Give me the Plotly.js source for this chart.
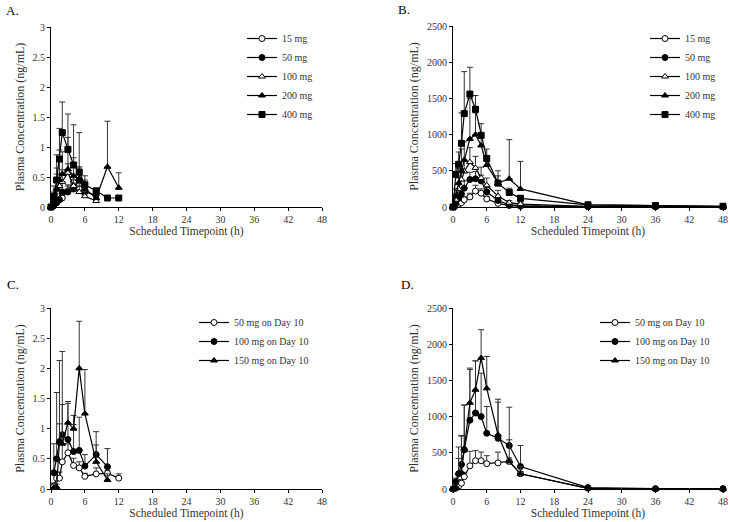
<!DOCTYPE html>
<html>
<head>
<meta charset="utf-8">
<script src="https://cdn.plot.ly/plotly-3.0.1.min.js"></script>
<style>html,body{margin:0;padding:0;background:#fff;}#chart{width:730px;height:522px;}</style>
</head>
<body>
<div id="chart"></div>
<script>
// ---- Data ----
var timesShort = [0, 0.5, 1, 1.5, 2, 3, 4, 5, 6, 8, 10, 12];
var timesLong = [0, 0.5, 1, 1.5, 2, 3, 4, 5, 6, 8, 10, 12, 24, 36, 48];
var timesC = [0.5, 1, 1.5, 2, 3, 4, 5, 6, 8, 10, 12];

// Panel A (single dose, ng/mL, short time)
var A15 = [0, 0.05, 0.15, 0.22, 0.15, 0.27, 0.42, 0.3, 0.28, null, null, null];
var A15err = [0, 0.05, 0.1, 0.1, 0.1, 0.1, 0.12, 0.1, 0.08, null, null, null];
var A50 = [0, 0.02, 0.07, 0.12, 0.25, 0.25, 0.3, 0.45, 0.25, 0.2, null, null];
var A50err = [0, 0.02, 0.05, 0.1, 0.15, 0.1, 0.1, 0.2, 0.1, 0.05, null, null];
var A100 = [0, 0.15, 0.3, 0.35, 0.42, 0.57, 0.35, 0.25, 0.18, 0.1, null, null];
var A100err = [0, 0.1, 0.35, 0.2, 0.2, 0.15, 0.1, 0.1, 0.08, 0.05, null, null];
var A200 = [0, 0.1, 0.3, 0.45, 0.55, 0.63, 0.52, 0.47, 0.3, 0.15, 0.67, 0.32];
var A200err = [0, 0.1, 0.25, 0.5, 0.37, 0.53, 0.3, 0.2, 0.15, 0.08, 0.76, 0.25];
var A400 = [0, 0.18, 0.45, 0.8, 1.24, 0.96, 0.7, 0.58, 0.37, 0.27, 0.15, 0.15];
var A400err = [0, 0.17, 0.42, 0.51, 0.51, 0.59, 0.67, 0.66, 0.15, 0.03, 0.02, 0.02];

// Panel B
var B15 = [0, 20, 40, 60, 100, 140, 220, 190, 110, 50, 20, 10, 5, 3, 2];
var B15err = [0, 10, 20, 30, 40, 50, 80, 60, 40, 20, 10, 5, 2, 2, 2];
var B50 = [0, 50, 120, 180, 260, 380, 390, 360, 210, 90, 30, 20, 5, 3, 2];
var B50err = [0, 30, 60, 80, 100, 100, 100, 80, 60, 40, 20, 10, 3, 2, 2];
var B100 = [0, 100, 250, 380, 490, 620, 540, 400, 300, 150, 60, 40, 10, 5, 5];
var B100err = [0, 80, 150, 150, 150, 200, 160, 150, 100, 80, 30, 20, 5, 3, 3];
var B200 = [0, 150, 330, 500, 650, 940, 1000, 850, 580, 330, 390, 250, 30, 15, 10];
var B200err = [0, 100, 200, 300, 250, 560, 300, 150, 120, 100, 540, 380, 10, 5, 5];
var B400 = [0, 450, 590, 880, 1290, 1560, 1350, 990, 670, 330, 200, 120, 30, 20, 10];
var B400err = [0, 150, 170, 420, 580, 370, 190, 160, 130, 170, 60, 40, 10, 5, 5];

// Panel C (Day 10, short time)
var C50 = [0.05, 0.18, 0.18, 0.45, 0.6, 0.39, 0.35, 0.21, 0.25, 0.26, 0.18];
var C50err = [0.05, 0.1, 0.1, 0.3, 0.15, 0.12, 0.1, 0.05, 0.1, 0.05, 0.07];
var C100 = [0.27, 0.5, 0.78, 0.9, 0.82, 0.62, 0.64, 0.38, 0.57, 0.37, null];
var C100err = [0.48, 1.1, 0.3, 0.5, 0.6, 0.45, 0.55, 0.19, 0.38, 0.3, null];
var C150 = [0.02, 0.03, 0.8, 0.75, 1.1, 1.0, 2.0, 1.25, 0.45, 0.15, null];
var C150err = [0.05, 0.05, 1.33, 1.53, 0.35, 0.22, 0.78, 0.73, 0.28, 0.1, null];

// Panel D (Day 10)
var D50 = [0, 10, 40, 80, 170, 320, 390, 390, 350, 360, 380, 210, 10, 0, 0];
var D50err = [0, 10, 30, 50, 60, 200, 140, 120, 110, 150, 50, 30, 5, 0, 0];
var D100 = [0, 100, 210, 340, 540, 950, 1050, 1000, 770, 700, 600, 310, 20, 5, 5];
var D100err = [0, 50, 370, 400, 620, 700, 720, 600, 370, 500, 530, 290, 10, 3, 3];
var D150 = [0, 30, 220, 230, 560, 1190, 1370, 1810, 1390, 750, 380, 210, 10, 0, 0];
var D150err = [0, 30, 200, 500, 600, 480, 400, 390, 440, 490, 300, 100, 5, 0, 0];

var namesAB = ['15 mg', '50 mg', '100 mg', '200 mg', '400 mg'];
var namesCD = ['50 mg on Day 10', '100 mg on Day 10', '150 mg on Day 10'];
// ---- Styles ----
var symAB = [
  {symbol: 'circle', color: '#fff'},
  {symbol: 'circle', color: '#000'},
  {symbol: 'triangle-up', color: '#fff'},
  {symbol: 'triangle-up', color: '#000'},
  {symbol: 'square', color: '#000'}
];
var symCD = [symAB[0], symAB[1], symAB[3]];

function zeros(a) { return a.map(function (v) { return v === null ? null : 0; }); }

function mk(x, y, err, name, sty, xa, ya, leg, grp) {
  return {
    type: 'scatter', mode: 'lines+markers', x: x, y: y, name: name,
    xaxis: xa, yaxis: ya, legend: leg, legendgroup: grp,
    line: {color: '#000', width: 1.2},
    marker: {symbol: sty.symbol, size: 6, color: sty.color, line: {color: '#000', width: 1}},
    error_y: {type: 'data', symmetric: false, array: err, arrayminus: zeros(err),
              color: '#333', thickness: 1, width: 3},
    cliponaxis: false
  };
}

var traces = [];
var Aser = [[A15, A15err], [A50, A50err], [A100, A100err], [A200, A200err], [A400, A400err]];
var Bser = [[B15, B15err], [B50, B50err], [B100, B100err], [B200, B200err], [B400, B400err]];
var Cser = [[C50, C50err], [C100, C100err], [C150, C150err]];
var Dser = [[D50, D50err], [D100, D100err], [D150, D150err]];
Aser.forEach(function (s, i) { traces.push(mk(timesShort, s[0], s[1], namesAB[i], symAB[i], 'x', 'y', 'legend', 'a' + i)); });
Bser.forEach(function (s, i) { traces.push(mk(timesLong, s[0], s[1], namesAB[i], symAB[i], 'x2', 'y2', 'legend2', 'b' + i)); });
Cser.forEach(function (s, i) { traces.push(mk(timesC, s[0], s[1], namesCD[i], symCD[i], 'x3', 'y3', 'legend3', 'c' + i)); });
Dser.forEach(function (s, i) { traces.push(mk(timesLong, s[0], s[1], namesCD[i], symCD[i], 'x4', 'y4', 'legend4', 'd' + i)); });

var W = 730, H = 522;
function dx(a, b) { return [a / W, b / W]; }
function dy(top, bot) { return [1 - bot / H, 1 - top / H]; }
var font = '"Liberation Serif", "Times New Roman", serif';
var xTicks = [0, 6, 12, 18, 24, 30, 36, 42, 48];

function xax(dom, anchor) {
  return {domain: dom, anchor: anchor, range: [0, 48], tickvals: xTicks, ticks: 'outside', ticklen: 3,
    tickcolor: '#000', showline: true, linecolor: '#000', linewidth: 1, showgrid: false, zeroline: false,
    tickfont: {family: font, size: 10, color: '#333'},
    title: {text: 'Scheduled Timepoint (h)', font: {family: font, size: 11.5, color: '#333'}, standoff: 2}};
}
function yax(dom, anchor, rng, dt) {
  return {domain: dom, anchor: anchor, range: rng, dtick: dt, ticks: 'outside', ticklen: 3,
    tickcolor: '#000', showline: true, linecolor: '#000', linewidth: 1, showgrid: false, zeroline: false,
    tickfont: {family: font, size: 10, color: '#333'},
    title: {text: 'Plasma Concentration (ng/mL)', font: {family: font, size: 12, color: '#333'}, standoff: 5}};
}
function leg(xpx, ypx) {
  return {x: xpx / W, y: 1 - ypx / H, xanchor: 'left', yanchor: 'top', bgcolor: 'rgba(0,0,0,0)',
    font: {family: font, size: 10, color: '#333'}, tracegroupgap: 0, itemwidth: 30};
}

var layout = {
  width: W, height: H, margin: {l: 0, r: 0, t: 0, b: 0},
  paper_bgcolor: '#fff', plot_bgcolor: '#fff', showlegend: true,
  xaxis: xax(dx(51, 322), 'y'), yaxis: yax(dy(27, 207), 'x', [0, 3], 0.5),
  xaxis2: xax(dx(453, 723), 'y2'), yaxis2: yax(dy(26, 207), 'x2', [0, 2500], 500),
  xaxis3: xax(dx(51, 322), 'y3'), yaxis3: yax(dy(308, 489), 'x3', [0, 3], 0.5),
  xaxis4: xax(dx(453, 723), 'y4'), yaxis4: yax(dy(308, 489), 'x4', [0, 2500], 500),
  legend: leg(242, 24), legend2: leg(645, 24), legend3: leg(194, 308), legend4: leg(595, 308),
  annotations: [
    {text: 'A.', x: 4 / W, y: 1 - 10 / H, xref: 'paper', yref: 'paper', xanchor: 'left', yanchor: 'middle', showarrow: false, font: {family: font, size: 13, color: '#000'}},
    {text: 'B.', x: 396 / W, y: 1 - 9 / H, xref: 'paper', yref: 'paper', xanchor: 'left', yanchor: 'middle', showarrow: false, font: {family: font, size: 13, color: '#000'}},
    {text: 'C.', x: 5 / W, y: 1 - 284 / H, xref: 'paper', yref: 'paper', xanchor: 'left', yanchor: 'middle', showarrow: false, font: {family: font, size: 13, color: '#000'}},
    {text: 'D.', x: 399 / W, y: 1 - 284 / H, xref: 'paper', yref: 'paper', xanchor: 'left', yanchor: 'middle', showarrow: false, font: {family: font, size: 13, color: '#000'}}
  ]
};

Plotly.newPlot('chart', traces, layout, {displayModeBar: false, staticPlot: true});
</script>
</body>
</html>
